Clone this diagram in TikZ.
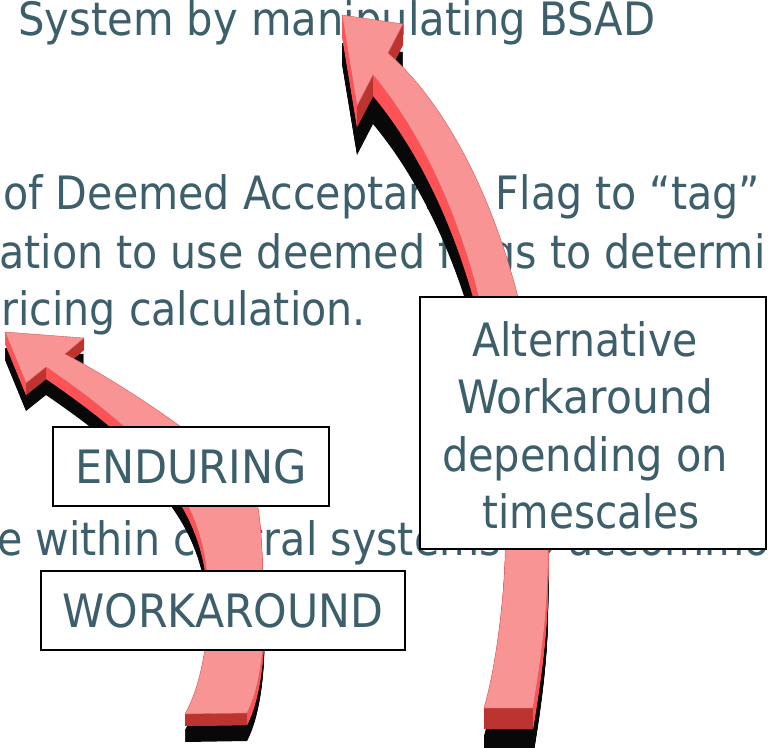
\documentclass[tikz,border=0pt]{standalone}
\usepackage{fontspec}
\setmainfont{DejaVu Sans}
\usepackage{graphicx}
\usepackage{tikz}
\definecolor{txtc}{RGB}{60,95,107}
\definecolor{pinkc}{RGB}{249,148,148}
\definecolor{sidec}{RGB}{255,82,87}
\definecolor{frontc}{RGB}{188,52,48}
\definecolor{shadc}{RGB}{8,8,8}
\newlength\reflen
\newlength\fitlen
\newcommand\fs{\fontsize{46}{55}\selectfont}
\newcommand\tx[1]{\scalebox{\gx}[1]{#1}}
\newcommand\fitw[2]{\settowidth\fitlen{#2}\pgfmathsetmacro\fitr{#1/\fitlen}\scalebox{\fitr}[1]{#2}}
\def\Rface{(484,708) -- (533,708) .. controls (541,660) and (548,610) .. (548,560) .. controls (550,300) and (470,125) .. (388,53) -- (403,24) -- (342,15) -- (357,106) -- (373,75) .. controls (448,165) and (512,330) .. (505,560) .. controls (503,610) and (495,670) .. (484,708) -- cycle}
\def\Lface{(185,714) -- (247,713) .. controls (262,685) and (267,630) .. (263,580) .. controls (262,545) and (261,520) .. (256,497) .. controls (240,462) and (125,385) .. (65,354) -- (84,338) -- (5,332) -- (26,383) -- (46,367) .. controls (160,445) and (200,500) .. (207,575) .. controls (211,625) and (204,680) .. (185,714) -- cycle}
\begin{document}
\settowidth\reflen{\fs of Deemed Acceptance Flag to “tag”}%
\pgfmathsetmacro\gx{757/\reflen}%
\begin{tikzpicture}[x=1pt,y=-1pt,
  txt/.style={font=\fs, text=txtc, inner sep=0pt},
  box/.style={draw=black, line width=1.8pt, fill=white, inner sep=0pt, font=\fs, text=txtc},
  topface/.style={fill=pinkc, draw=frontc!60!pinkc, line width=0.4pt},
  frontface/.style={fill=frontc},
  sideface/.style={fill=sidec},
  shadface/.style={fill=shadc}]
\useasboundingbox (0,0) rectangle (768,747);
\clip (0,0) rectangle (768,747);
% background text
\node[txt, anchor=base west] (l1) at (18,35) {\fitw{637}{System by manipulating BSAD}};
\node[txt, anchor=base west] (l2) at (3,209) {\tx{of Deemed Acceptance Flag to “tag”}};
\node[txt, anchor=base west] (l3) at (-1,268) {\tx{ation to use deemed flags to determine}};
\node[txt, anchor=base east] (l4) at (366,325) {\tx{pricing calculation.}};
\node[txt, anchor=base west] (l5) at (-3,555) {\tx{e within central systems to accommodate}};
% right arrow
\foreach \k in {28,...,49} {\fill[shadface, shift={(0,\k)}] \Rface;}
\foreach \k in {1,...,21} {\fill[sideface, shift={(0,\k)}] \Rface;}
\fill[frontface] (484,708) -- (533,708) -- (533,729) -- (484,729) -- cycle;
\fill[frontface] (373,75) -- (357,106) -- (357,127) -- (373,96) -- cycle;
\fill[frontface] (388,53) -- (403,24) -- (403,45) -- (388,74) -- cycle;
\path[topface] \Rface;
% left arrow
\foreach \k in {16,...,28} {\fill[shadface, shift={(0,\k)}] \Lface;}
\foreach \k in {1,...,12} {\fill[sideface, shift={(0,\k)}] \Lface;}
\fill[frontface] (185,714) -- (247,713) -- (247,725) -- (185,726) -- cycle;
\fill[frontface] (46,367) -- (26,383) -- (26,395) -- (46,379) -- cycle;
\fill[frontface] (65,354) -- (84,338) -- (84,350) -- (65,366) -- cycle;
\path[topface] \Lface;
% boxes
\node[box, minimum width=276pt, minimum height=79pt] (endbox) at (191,466.5) {\fitw{232}{ENDURING}};
\node[box, minimum width=364pt, minimum height=79pt] (workbox) at (223,610.5) {\fitw{321}{WORKAROUND}};
\node[box, minimum width=346pt, minimum height=252pt] (altbox) at (593,423) {};
\node[txt, anchor=base] (alt1) at (585,356) {\fitw{225}{Alternative}};
\node[txt, anchor=base] (alt2) at (585,413) {\fitw{256}{Workaround}};
\node[txt, anchor=base] (alt3) at (585,471) {\fitw{286}{depending on}};
\node[txt, anchor=base] (alt4) at (591,528) {\fitw{217}{timescales}};
\end{tikzpicture}
\end{document}
